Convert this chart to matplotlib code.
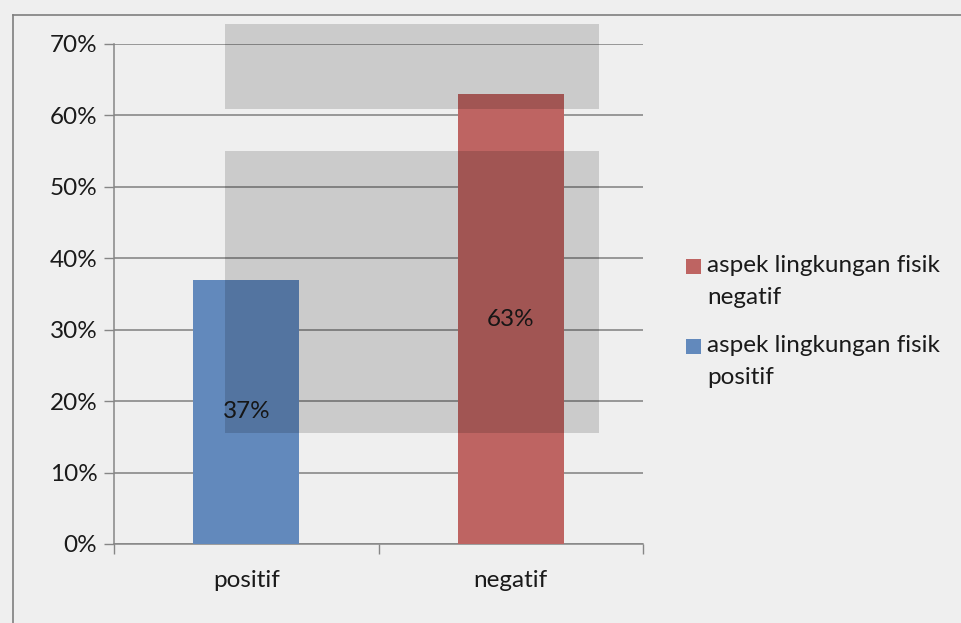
import matplotlib
matplotlib.use("Agg")
import matplotlib.pyplot as plt
from matplotlib.patches import Rectangle
from matplotlib.lines import Line2D
from matplotlib.ticker import PercentFormatter, FixedLocator

categories = ["positif", "negatif"]
values = [0.37, 0.63]
bar_colors = ["#6289bc", "#be6462"]
legend_labels = ["aspek lingkungan fisik\nnegatif", "aspek lingkungan fisik\npositif"]
y_ticks = [0.0, 0.1, 0.2, 0.3, 0.4, 0.5, 0.6, 0.7]

plt.rcParams['font.family'] = ['Lato', 'DejaVu Sans']
FS = 17.5
W, H = 961, 623
fig = plt.figure(figsize=(W / 100, H / 100), dpi=100)
fig.patch.set_facecolor("#efefef")

ax = fig.add_axes([114 / W, 1 - 544 / H, 529 / W, 500 / H])
ax.set_facecolor("none")

x = list(range(len(categories)))
bars = ax.bar(x, values, width=0.4, color=bar_colors, zorder=3)
ax.set_xlim(-0.5, len(categories) - 0.5)
ax.set_ylim(0, 0.7)
ax.set_yticks(y_ticks)
ax.yaxis.set_major_formatter(PercentFormatter(1.0, decimals=0))
ax.set_xticks(x)
ax.set_xticklabels(categories)
ax.xaxis.set_minor_locator(FixedLocator([-0.5, 0.5, 1.5]))
ax.tick_params(axis='x', which='major', length=0, pad=19, labelsize=FS, colors="#1a1a1a")
ax.tick_params(axis='x', which='minor', length=7, width=1, color="#868686", direction='out')
ax.tick_params(axis='y', length=7, width=1, color="#868686", labelsize=FS, labelcolor="#1a1a1a", pad=5)
ax.grid(axis='y', color="#808080", linewidth=1.1, zorder=1)
for s in ["top", "right"]:
    ax.spines[s].set_visible(False)
for s in ["left", "bottom"]:
    ax.spines[s].set_color("#868686")
    ax.spines[s].set_linewidth(1.1)

for b, v in zip(bars, values):
    ax.text(b.get_x() + b.get_width() / 2, v / 2, f"{round(v * 100)}%",
            ha='center', va='center', fontsize=FS, color="#1a1a1a", zorder=5)

# watermark-like gray overlay rectangles (figure pixel coordinates)
for (x0, y0, x1, y1) in [(225, 24, 599, 109), (225, 151, 599, 433)]:
    fig.patches.append(Rectangle((x0 / W, 1 - y1 / H), (x1 - x0) / W, (y1 - y0) / H,
                                 transform=fig.transFigure, facecolor="black",
                                 alpha=0.15, edgecolor="none", zorder=4))

# chart area border
fig.add_artist(Line2D([13 / W, 13 / W], [0, 1 - 15 / H], transform=fig.transFigure,
                      color="#7f7f7f", lw=1.2))
fig.add_artist(Line2D([13 / W, 1], [1 - 15 / H, 1 - 15 / H], transform=fig.transFigure,
                      color="#7f7f7f", lw=1.2))

# legend (series order as in the reference: negatif first)
legend_colors = [bar_colors[1], bar_colors[0]]
entry_y = [266, 346]
line_gap = 32
for lab, col, yc in zip(legend_labels, legend_colors, entry_y):
    fig.patches.append(Rectangle((686 / W, 1 - (yc + 7.5) / H), 15 / W, 15 / H,
                                 transform=fig.transFigure, facecolor=col,
                                 edgecolor="none"))
    for i, line in enumerate(lab.split("\n")):
        fig.text(707 / W, 1 - (yc + i * line_gap) / H, line, ha='left', va='center',
                 fontsize=FS, color="#1a1a1a")

fig.savefig("out.png", dpi=100, facecolor=fig.get_facecolor())
